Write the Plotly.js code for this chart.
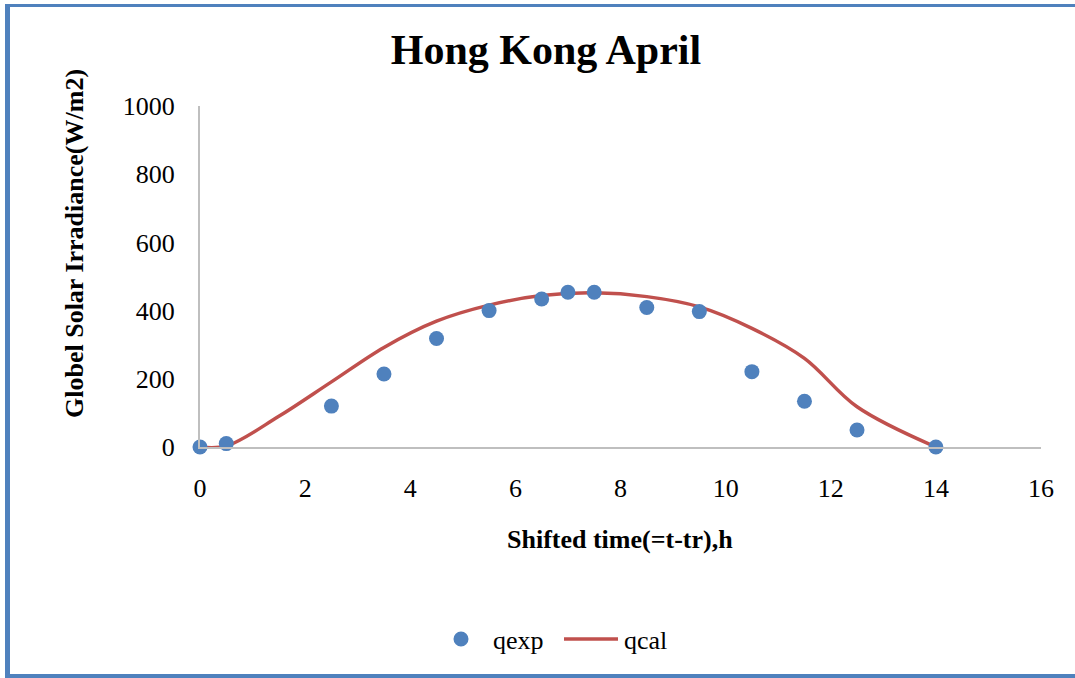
<!DOCTYPE html>
<html>
<head>
<meta charset="utf-8">
<script src="https://cdn.plot.ly/plotly-3.0.1.min.js"></script>
<style>
  html, body { margin: 0; padding: 0; background: #fff; overflow: hidden; }
  #chart { width: 1075px; height: 678px; }
</style>
</head>
<body>
<div id="chart"></div>
<script>
// measured values
const expTime = [0, 0.5, 2.5, 3.5, 4.5, 5.5, 6.5, 7, 7.5, 8.5, 9.5, 10.5, 11.5, 12.5, 14];
const qexp    = [0, 10, 120, 214, 318, 400, 434, 454, 454, 409, 397, 221, 134, 50, 0];

const calTime = [0, 0.5, 1.5, 2.5, 3.5, 4.5, 5.5, 6.5, 7.5, 8.5, 9.5, 10.5, 11.5, 12.5, 14];
const qcal    = [0, 3, 90, 191, 292, 369, 416, 444, 452, 441, 411, 348, 260, 118, 0];

const xTicks = [0, 2, 4, 6, 8, 10, 12, 14, 16];
const yTicks = [0, 200, 400, 600, 800, 1000];

const serif = 'Liberation Serif, Times New Roman, serif';
const blue = '#4f81bd', red = '#c0504d';

// pixel -> paper helpers (plot area: x 200..1041, y 106..447)
const L = 200, R = 1041, T = 106, B = 447;
const px = v => (v - L) / (R - L);
const py = v => (B - v) / (B - T);

const traces = [
  {
    x: calTime, y: qcal, name: 'qcal', type: 'scatter', mode: 'lines',
    line: { color: red, width: 3.5, shape: 'spline', smoothing: 1 }, showlegend: false, cliponaxis: false
  },
  {
    x: expTime, y: qexp, name: 'qexp', type: 'scatter', mode: 'markers',
    marker: { color: blue, size: 15 }, showlegend: false, cliponaxis: false
  }
];

const shapes = [
  // outer frame (left, top, bottom)
  { type: 'rect', xref: 'paper', yref: 'paper', x0: px(5), x1: px(10), y0: py(678), y1: py(4), fillcolor: blue, line: { width: 0 }, layer: 'above' },
  { type: 'rect', xref: 'paper', yref: 'paper', x0: px(5), x1: px(1075), y0: py(7), y1: py(4), fillcolor: blue, line: { width: 0 }, layer: 'above' },
  { type: 'rect', xref: 'paper', yref: 'paper', x0: px(5), x1: px(1075), y0: py(678), y1: py(674), fillcolor: blue, line: { width: 0 }, layer: 'above' },
  // legend symbols
  { type: 'circle', xref: 'paper', yref: 'paper', x0: px(453.5), x1: px(468.5), y0: py(646.5), y1: py(631.5), fillcolor: blue, line: { width: 0 } },
  { type: 'line', xref: 'paper', yref: 'paper', x0: px(564), x1: px(618), y0: py(639), y1: py(639), line: { color: red, width: 3.5 } }
];

const annotations = [
  { text: '<b>Globel Solar Irradiance(W/m2)</b>', xref: 'paper', yref: 'paper', x: px(74), y: py(244),
    textangle: -90, showarrow: false, xanchor: 'center', yanchor: 'middle', font: { family: serif, size: 26, color: '#000' } },
  { text: '<b>Shifted time(=t-tr),h</b>', xref: 'paper', yref: 'paper', x: px(620), y: py(539),
    showarrow: false, xanchor: 'center', yanchor: 'middle', font: { family: serif, size: 26, color: '#000' } },
  { text: 'qexp', xref: 'paper', yref: 'paper', x: px(491), y: py(640),
    showarrow: false, xanchor: 'left', yanchor: 'middle', font: { family: serif, size: 26, color: '#000' } },
  { text: 'qcal', xref: 'paper', yref: 'paper', x: px(622), y: py(640),
    showarrow: false, xanchor: 'left', yanchor: 'middle', font: { family: serif, size: 26, color: '#000' } }
];

const layout = {
  width: 1075, height: 678,
  margin: { l: L, r: 1075 - R, t: T, b: 678 - B },
  paper_bgcolor: '#ffffff', plot_bgcolor: '#ffffff',
  font: { family: serif, color: '#000000', size: 26 },
  title: {
    text: '<b>Hong Kong April</b>',
    font: { family: serif, size: 42, color: '#000000' },
    xref: 'container', x: 546 / 1075, xanchor: 'center',
    yref: 'container', y: 1 - 49 / 678, yanchor: 'middle'
  },
  xaxis: {
    range: [0, 16], tickvals: xTicks, ticktext: xTicks.map(String),
    showgrid: false, zeroline: false, automargin: false,
    showline: true, linecolor: '#bfbfbf', linewidth: 2,
    ticks: 'outside', ticklen: 17, tickcolor: 'rgba(0,0,0,0)',
    tickfont: { family: serif, size: 26 }
  },
  yaxis: {
    range: [0, 1000], tickvals: yTicks, ticktext: yTicks.map(String),
    showgrid: false, zeroline: false, automargin: false,
    showline: true, linecolor: '#bfbfbf', linewidth: 2,
    ticks: 'outside', ticklen: 18, tickcolor: 'rgba(0,0,0,0)',
    tickfont: { family: serif, size: 26 }
  },
  showlegend: false,
  shapes: shapes,
  annotations: annotations
};

Plotly.newPlot('chart', traces, layout, { displayModeBar: false, staticPlot: true });
</script>
</body>
</html>
